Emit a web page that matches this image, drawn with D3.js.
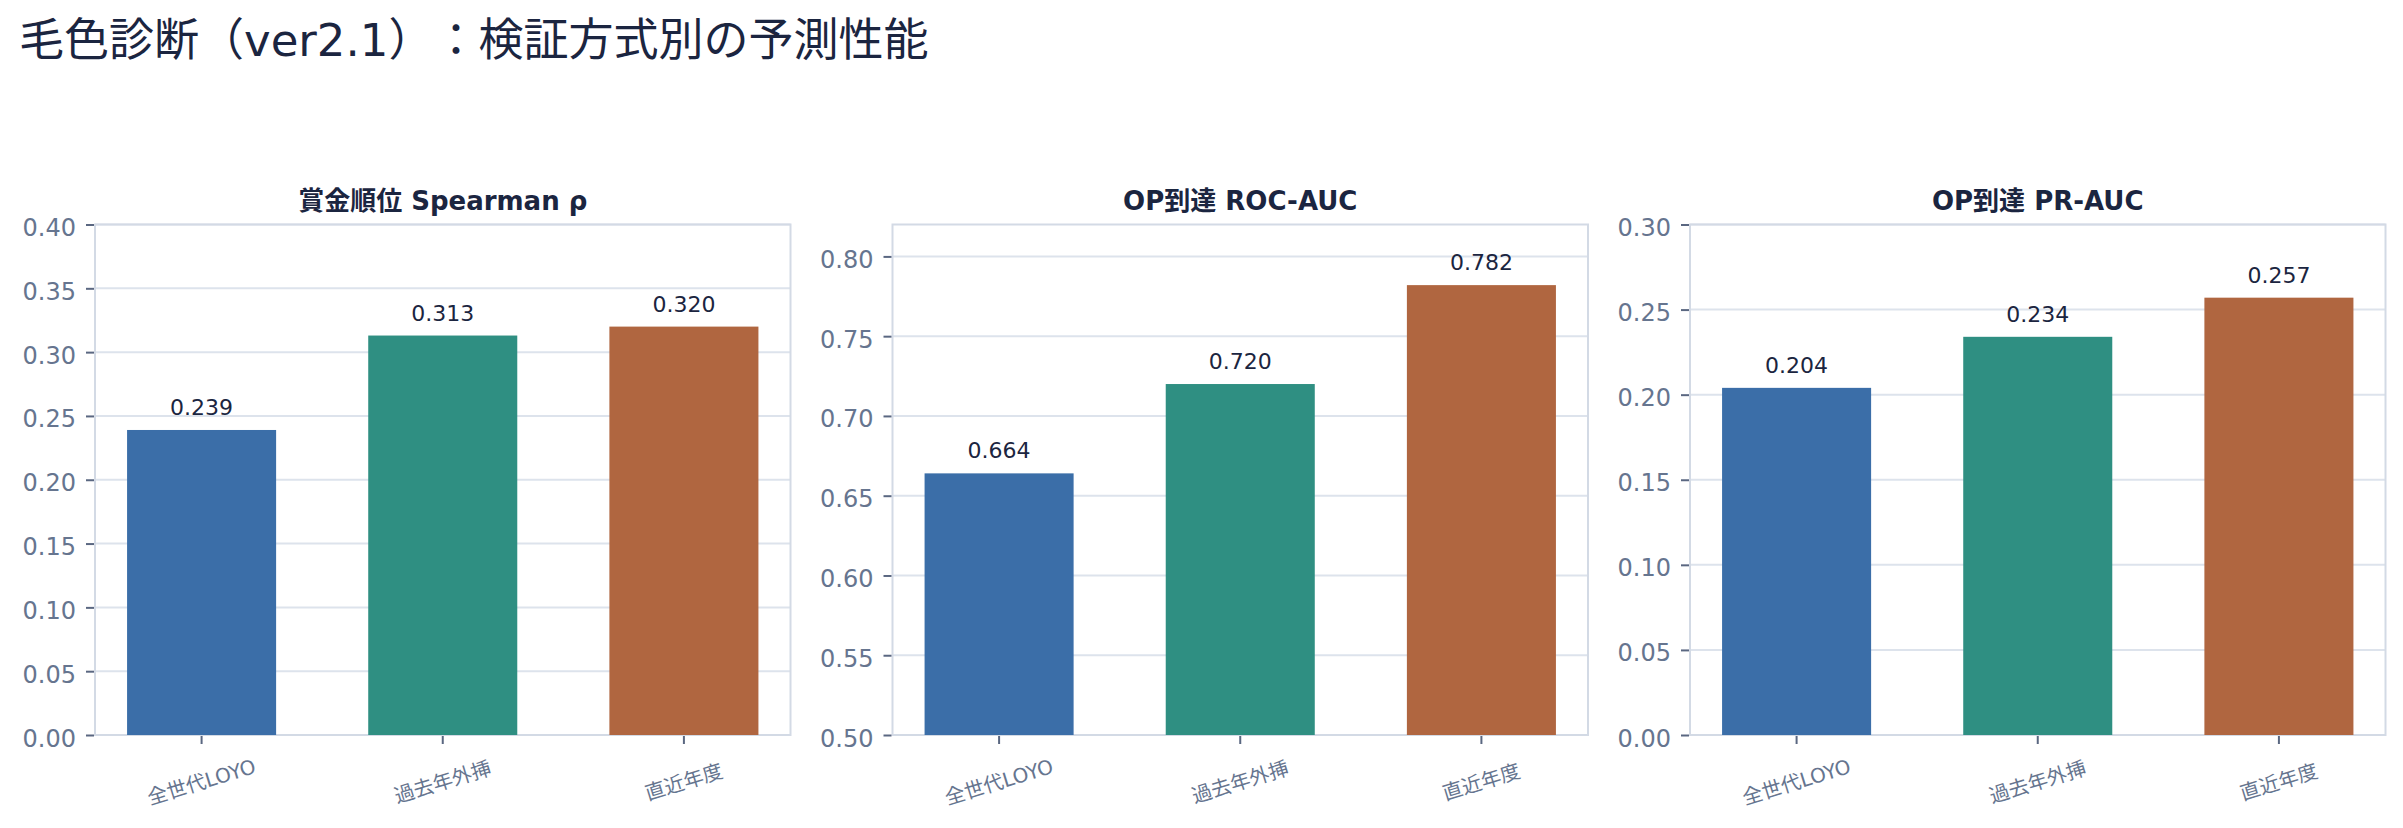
<!DOCTYPE html>
<html>
<head>
<meta charset="utf-8">
<script src="https://cdn.jsdelivr.net/npm/d3@7"></script>
<style>
  html, body { margin: 0; padding: 0; background: #ffffff; }
  svg { display: block; }
  text { text-spacing-trim: space-all; }
</style>
</head>
<body>
<svg id="chart" width="2403" height="828"></svg>
<script>
// ---- data ----
const chartTitle = "毛色診断（ver2.1）：検証方式別の予測性能";
const categories = ["全世代LOYO", "過去年外挿", "直近年度"];
const panelTitles = ["賞金順位 Spearman ρ", "OP到達 ROC-AUC", "OP到達 PR-AUC"];
const spearmanValues = [0.239, 0.313, 0.320];
const rocAucValues = [0.664, 0.720, 0.782];
const prAucValues = [0.204, 0.234, 0.257];
const yDomains = [[0, 0.40], [0.50, 0.82], [0, 0.30]];
const yTickValues = [
  [0.00, 0.05, 0.10, 0.15, 0.20, 0.25, 0.30, 0.35, 0.40],
  [0.50, 0.55, 0.60, 0.65, 0.70, 0.75, 0.80],
  [0.00, 0.05, 0.10, 0.15, 0.20, 0.25, 0.30]
];
const barColors = ["#3b6ea8", "#2f8f82", "#b06640"];

// ---- layout ----
const svg = d3.select("#chart");
const latin = "'DejaVu Sans', 'Noto Sans CJK JP', sans-serif";
const plotTop = 224.5, plotBottom = 735;
const plotLefts = [95, 892.5, 1690];
const plotWidth = 695.5;
const gridColor = "#dde3ec";
const frameColor = "#d3dae5";
const tickColor = "#5a6781";
const tickLabelColor = "#66758f";
const darkText = "#1b2540";

svg.append("text")
  .attr("x", 19).attr("y", 56)
  .attr("font-family", latin)
  .attr("font-size", 45)
  .attr("fill", darkText)
  .style("text-spacing-trim", "space-all")
  .text(chartTitle);

const seriesList = [spearmanValues, rocAucValues, prAucValues];

seriesList.forEach((values, i) => {
  const x0 = plotLefts[i];
  const g = svg.append("g");
  const x = d3.scaleBand().domain(categories)
    .range([x0, x0 + plotWidth])
    .paddingInner(0.382).paddingOuter(0.133);
  const y = d3.scaleLinear().domain(yDomains[i]).range([plotBottom, plotTop]);

  // gridlines
  g.append("g").selectAll("line").data(yTickValues[i]).join("line")
    .attr("x1", x0).attr("x2", x0 + plotWidth)
    .attr("y1", d => y(d)).attr("y2", d => y(d))
    .attr("stroke", gridColor).attr("stroke-width", 2);

  // frame
  g.append("rect")
    .attr("x", x0).attr("y", plotTop)
    .attr("width", plotWidth).attr("height", plotBottom - plotTop)
    .attr("fill", "none").attr("stroke", frameColor).attr("stroke-width", 2);

  // bars
  g.append("g").selectAll("rect").data(values).join("rect")
    .attr("x", (d, j) => x(categories[j]))
    .attr("width", x.bandwidth())
    .attr("y", d => y(d))
    .attr("height", d => y(yDomains[i][0]) - y(d))
    .attr("fill", (d, j) => barColors[j]);

  // value labels
  g.append("g").selectAll("text").data(values).join("text")
    .attr("x", (d, j) => x(categories[j]) + x.bandwidth() / 2)
    .attr("y", d => y(d) - 15)
    .attr("text-anchor", "middle")
    .attr("font-family", latin)
    .attr("font-size", 22)
    .attr("fill", darkText)
    .text(d => d3.format(".3f")(d));

  // y axis
  const yAxis = g.append("g")
    .attr("transform", `translate(${x0 - 1},0)`)
    .call(d3.axisLeft(y).tickValues(yTickValues[i]).tickFormat(d3.format(".2f")).tickSize(8).tickPadding(10));
  yAxis.select(".domain").remove();
  yAxis.selectAll(".tick line").attr("stroke", tickColor).attr("stroke-width", 2);
  yAxis.selectAll(".tick text")
    .attr("font-family", latin).attr("font-size", 24)
    .attr("fill", tickLabelColor)
    .attr("dy", "0.46em");

  // x axis
  const xAxis = g.append("g")
    .attr("transform", `translate(0,${plotBottom + 1})`)
    .call(d3.axisBottom(x).tickSize(8).tickPadding(0));
  xAxis.select(".domain").remove();
  xAxis.selectAll(".tick line").attr("stroke", tickColor).attr("stroke-width", 2);
  xAxis.selectAll(".tick text")
    .attr("font-family", latin).attr("font-size", 20)
    .attr("fill", tickLabelColor)
    .attr("text-anchor", "middle")
    .attr("dominant-baseline", "central")
    .attr("y", 0).attr("dy", 0)
    .attr("transform", "translate(0,46) rotate(-17)");

  // panel title
  svg.append("text")
    .attr("x", x0 + plotWidth / 2).attr("y", 210)
    .attr("text-anchor", "middle")
    .attr("font-family", latin)
    .attr("font-size", 26)
    .attr("font-weight", "bold")
    .attr("fill", darkText)
    .text(panelTitles[i]);
});
</script>
</body>
</html>
